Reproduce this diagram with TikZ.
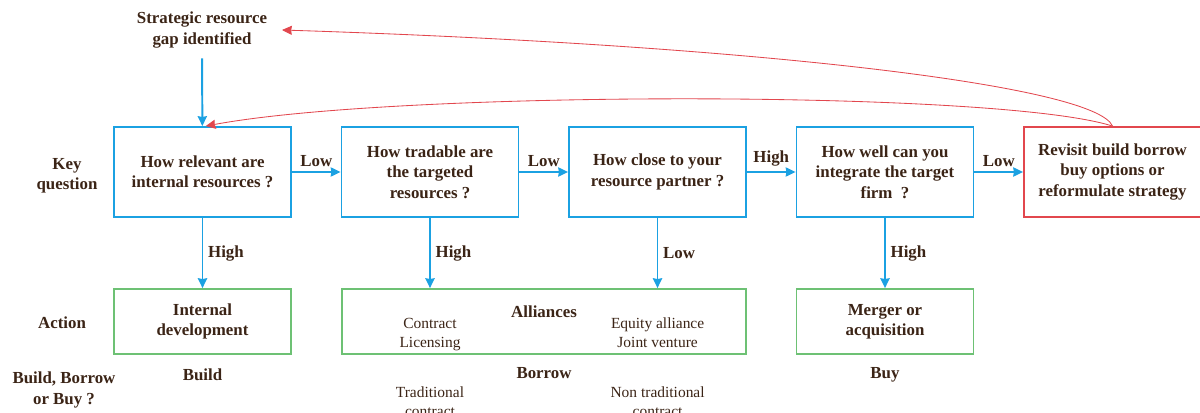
\documentclass[tikz,border=0pt]{standalone}
\usepackage{fontspec}
\setmainfont{Liberation Serif}
\usepackage{xcolor}
\usetikzlibrary{arrows.meta}
\definecolor{qblue}{HTML}{1BA1E2}
\definecolor{agreen}{HTML}{6DC174}
\definecolor{rred}{HTML}{E2474E}
\definecolor{ink}{HTML}{3B2416}
\tikzstyle{qbox} = [rectangle, minimum width=4.425cm, minimum height=2.25cm, text centered, align=center, draw=qblue, line width=1.3pt, text=ink, font=\bfseries\fontsize{12}{14.5}\selectfont]
\tikzstyle{abox} = [rectangle, minimum width=4.425cm, minimum height=1.625cm, text centered, align=center, draw=agreen, line width=1.2pt, text=ink, font=\bfseries\fontsize{12}{14.5}\selectfont]
\tikzstyle{lbl} = [align=center, text=ink, font=\bfseries\fontsize{12}{14.5}\selectfont]
\tikzstyle{plain} = [align=center, text=ink, font=\fontsize{11}{13.5}\selectfont]
\tikzstyle{arrow} = [line width=1.4pt, draw=qblue, -{Stealth[length=7pt, width=6.5pt, inset=0.5pt]}]
\tikzstyle{back} = [line width=0.6pt, draw=rred, -{Stealth[length=7pt, width=6.5pt, inset=0.5pt]}]

\begin{document}
\begin{tikzpicture}
            \useasboundingbox (0,0) rectangle (30,10.3);

            % Draw Boxes
            \node(rel) [qbox] at (5.0625,6) {How relevant are\\internal resources ?};
            \node(trade) [qbox, right of=rel, xshift=4.6875cm] {How tradable are\\the targeted\\resources ?};
            \node(close) [qbox, right of=trade, xshift=4.6875cm] {How close to your\\resource partner ?};
            \node(integ) [qbox, right of=close, xshift=4.6875cm] {How well can you\\integrate the target\\firm\ \ ?};
            \node(revisit) [qbox, draw=rred, right of=integ, xshift=4.6875cm] {Revisit build borrow\\buy options or\\reformulate strategy};
            \node(build) [abox, below of=rel, yshift=-2.7375cm] {Internal\\development};
            \node(borrow) [abox, minimum width=10.1cm] at (13.6,2.2625) {};
            \node(buy) [abox, below of=integ, yshift=-2.7375cm] {Merger or\\acquisition};

            % Draw Texts
            \node(gap) [lbl] at (5.05,9.55) {Strategic resource\\gap identified};
            \node(keyq) [lbl] at (1.675,5.9) {Key\\question};
            \node(action) [lbl] at (1.55,2.225) {Action};
            \node(bbb) [lbl] at (1.6,0.55) {Build, Borrow\\or Buy ?};
            \node(alli) [lbl] at (13.6,2.5) {Alliances};
            \node(contr) [plain, anchor=north] at (10.75,2.47) {Contract\\Licensing};
            \node(equity) [plain, anchor=north] at (16.44,2.47) {Equity alliance\\Joint venture};
            \node(buildlbl) [lbl] at (5.0625,0.925) {Build};
            \node(borrowlbl) [lbl] at (13.6,0.975) {Borrow};
            \node(buylbl) [lbl] at (22.125,0.925) {Buy};
            \node(trad) [plain] at (10.75,0.25) {Traditional\\contract};
            \node(nontrad) [plain] at (16.44,0.25) {Non traditional\\contract};

            % Draw Arrows
            \draw[arrow, shorten <=4pt] (gap) -- (rel);
            \draw[arrow] (rel) -- (trade) node[midway, above, lbl] {Low};
            \draw[arrow] (trade) -- (close) node[midway, above, lbl] {Low};
            \draw[arrow] (close) -- (integ) node[midway, above, lbl] {High};
            \draw[arrow] (integ) -- (revisit) node[midway, above, lbl] {Low};
            \draw[arrow] (rel) -- (build) node[midway, right, lbl] {High};
            \draw[arrow] (trade.south) -- (trade.south |- borrow.north) node[midway, right, lbl] {High};
            \draw[arrow] (close.south) -- (close.south |- borrow.north) node[midway, right, lbl] {Low};
            \draw[arrow] (integ) -- (buy) node[midway, right, lbl] {High};

            % Loop back
            \draw[back] (revisit.north) .. controls (27.375,8.175) and (18.75,9.175) .. ([xshift=0.25cm]gap.east);
            \draw[back] (revisit.north) .. controls (25,8.05) and (10,8.05) .. ([xshift=0.08cm]rel.north);
        \end{tikzpicture}
\end{document}
